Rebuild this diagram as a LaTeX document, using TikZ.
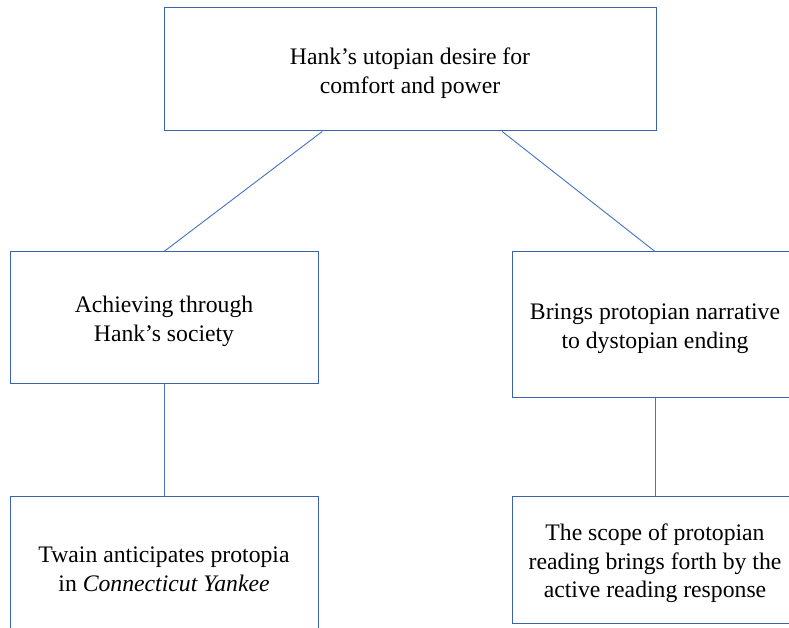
\documentclass[tikz,border=0pt]{standalone}
\usepackage{fontspec}
\setmainfont{Liberation Serif}
\usetikzlibrary{calc}
\definecolor{boxblue}{HTML}{3A63AE}
\definecolor{linkblue}{HTML}{4472C4}
\tikzset{
  topic box/.style={draw=boxblue, line width=1pt, fill=white, align=center, inner sep=0pt,
    font=\fontsize{23.7}{28.5}\selectfont},
  link line/.style={line width=0.9pt, linkblue},
}
\newcommand{\topstrut}{\rule{0pt}{24.5pt}}

\begin{document}
\begin{tikzpicture}[x=1pt, y=-1pt]
  \useasboundingbox (0,0) rectangle (789,628);
  \clip (0,0) rectangle (789,628);
  \fill[white] (0,0) rectangle (789,628);
  % boxes
  \node[topic box, minimum width=492pt, minimum height=123pt] (hank) at (410,69.5)
    {\topstrut Hank’s utopian desire for\\comfort and power};
  \node[topic box, minimum width=308pt, minimum height=131pt] (achieve) at (164,317.5)
    {\topstrut Achieving through\\Hank’s society};
  \node[topic box, minimum width=286pt, minimum height=145pt] (brings) at (655,324.5)
    {\topstrut Brings protopian narrative\\to dystopian ending};
  \node[topic box, minimum width=308pt, minimum height=138pt] (twain) at (164,565)
    {\topstrut Twain anticipates protopia\\in \textit{Connecticut Yankee}};
  \node[topic box, minimum width=286pt, minimum height=127pt] (scope) at (655,559.5)
    {\topstrut The scope of protopian\\reading brings forth by the\\active reading response};
  % connectors
  \draw[link line] ($(hank.south west)!0.322!(hank.south east)$) -- (achieve.north);
  \draw[link line] ($(hank.south west)!0.687!(hank.south east)$) -- (brings.north);
  \draw[link line] (achieve.south) -- (twain.north);
  \draw[link line] (brings.south) -- (scope.north);
\end{tikzpicture}
\end{document}
